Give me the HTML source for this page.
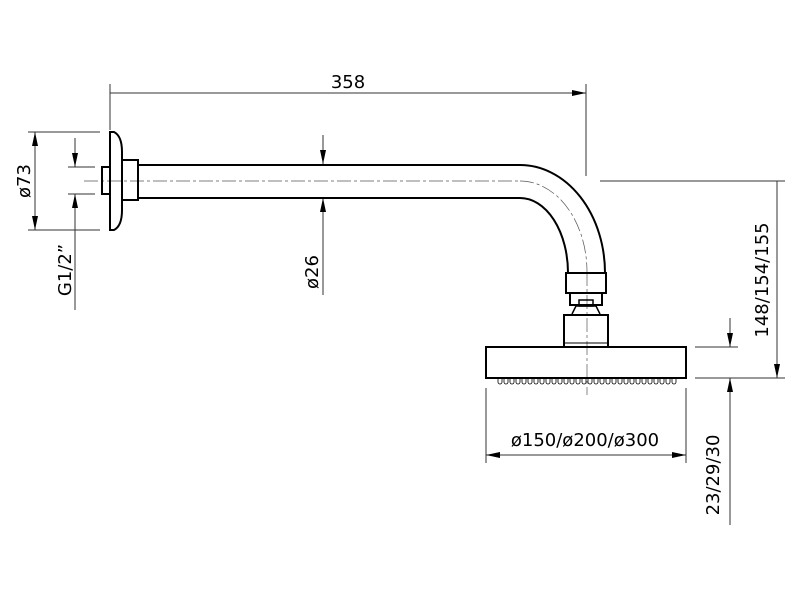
<!DOCTYPE html>
<html><head><style>body{margin:0;background:#fff}svg{display:block}</style></head><body>
<svg width="800" height="600" viewBox="0 0 800 600" xmlns="http://www.w3.org/2000/svg" font-family="DejaVu Sans, Liberation Sans, sans-serif">
<defs>
<marker id="a" viewBox="0 0 14 6" refX="14" refY="3" markerWidth="14" markerHeight="6" markerUnits="userSpaceOnUse" orient="auto-start-reverse"><path d="M0,0L14,3L0,6z" fill="#000"/></marker>
</defs>
<g stroke="#000" fill="none">
<g stroke-width="1" stroke="#333">
<line x1="110" y1="84" x2="110" y2="130"/>
<line x1="586" y1="84" x2="586" y2="176"/>
<line x1="110" y1="93" x2="586" y2="93" marker-end="url(#a)"/>
<line x1="28" y1="132" x2="100" y2="132"/>
<line x1="28" y1="230" x2="100" y2="230"/>
<line x1="35" y1="132" x2="35" y2="230" marker-start="url(#a)" marker-end="url(#a)"/>
<line x1="68" y1="167" x2="95" y2="167"/>
<line x1="68" y1="194" x2="95" y2="194"/>
<line x1="75" y1="138" x2="75" y2="167" marker-end="url(#a)"/>
<line x1="75" y1="310" x2="75" y2="194" marker-end="url(#a)"/>
<line x1="323" y1="135" x2="323" y2="164" marker-end="url(#a)"/>
<line x1="323" y1="295" x2="323" y2="198" marker-end="url(#a)"/>
<line x1="600" y1="181" x2="785" y2="181"/>
<line x1="695" y1="378" x2="785" y2="378"/>
<line x1="695" y1="347" x2="738" y2="347"/>
<line x1="777" y1="181" x2="777" y2="378" marker-end="url(#a)"/>
<line x1="730" y1="318" x2="730" y2="347" marker-end="url(#a)"/>
<line x1="730" y1="525" x2="730" y2="378" marker-end="url(#a)"/>
<line x1="486" y1="388" x2="486" y2="463"/>
<line x1="686" y1="388" x2="686" y2="463"/>
<line x1="486" y1="455" x2="686" y2="455" marker-start="url(#a)" marker-end="url(#a)"/>
<g stroke-dasharray="14 3 3 3" stroke-width="0.7" stroke="#555">
<line x1="84" y1="181" x2="520" y2="181"/>
<path d="M520,181 A67,91 0 0 1 587,272"/>
<line x1="587" y1="272" x2="587" y2="395"/>
</g>
</g>
<g stroke-width="2">
<path d="M110,132 L110,230 L114,230 Q122,226 122,210 L122,152 Q122,136 114,132 Z"/>
<rect x="102" y="167" width="8" height="27"/>
<rect x="122" y="160" width="16" height="40"/>
<path d="M138,165 L520,165 A85,108 0 0 1 605,273"/>
<path d="M138,198 L520,198 A48,75 0 0 1 568,273"/>
<rect x="566" y="273" width="40" height="20"/>
<rect x="570" y="293" width="32" height="12"/>
<rect x="579" y="300" width="14" height="6" stroke-width="1.5"/>
<path d="M572,314 L576,306 L596,306 L600,314" stroke-width="1.5"/>
<rect x="564" y="315" width="44" height="32"/>
<line x1="564" y1="343" x2="608" y2="343" stroke-width="1"/>
<rect x="486" y="347" width="200" height="31"/>
</g>
<path stroke-width="0.8" d="M498,378 v4 a2,2 0 0 0 4,0 v-4 M504,378 v4 a2,2 0 0 0 4,0 v-4 M510,378 v4 a2,2 0 0 0 4,0 v-4 M516,378 v4 a2,2 0 0 0 4,0 v-4 M522,378 v4 a2,2 0 0 0 4,0 v-4 M528,378 v4 a2,2 0 0 0 4,0 v-4 M534,378 v4 a2,2 0 0 0 4,0 v-4 M540,378 v4 a2,2 0 0 0 4,0 v-4 M546,378 v4 a2,2 0 0 0 4,0 v-4 M552,378 v4 a2,2 0 0 0 4,0 v-4 M558,378 v4 a2,2 0 0 0 4,0 v-4 M564,378 v4 a2,2 0 0 0 4,0 v-4 M570,378 v4 a2,2 0 0 0 4,0 v-4 M576,378 v4 a2,2 0 0 0 4,0 v-4 M582,378 v4 a2,2 0 0 0 4,0 v-4 M588,378 v4 a2,2 0 0 0 4,0 v-4 M594,378 v4 a2,2 0 0 0 4,0 v-4 M600,378 v4 a2,2 0 0 0 4,0 v-4 M606,378 v4 a2,2 0 0 0 4,0 v-4 M612,378 v4 a2,2 0 0 0 4,0 v-4 M618,378 v4 a2,2 0 0 0 4,0 v-4 M624,378 v4 a2,2 0 0 0 4,0 v-4 M630,378 v4 a2,2 0 0 0 4,0 v-4 M636,378 v4 a2,2 0 0 0 4,0 v-4 M642,378 v4 a2,2 0 0 0 4,0 v-4 M648,378 v4 a2,2 0 0 0 4,0 v-4 M654,378 v4 a2,2 0 0 0 4,0 v-4 M660,378 v4 a2,2 0 0 0 4,0 v-4 M666,378 v4 a2,2 0 0 0 4,0 v-4 M672,378 v4 a2,2 0 0 0 4,0 v-4"/>
</g>
<g fill="#000" font-size="18" text-anchor="middle">
<text x="348" y="88">358</text>
<text x="585" y="446">ø150/ø200/ø300</text>
<text transform="translate(30,181) rotate(-90)">ø73</text>
<text transform="translate(71,270) rotate(-90)">G1/2”</text>
<text transform="translate(318,272) rotate(-90)">ø26</text>
<text transform="translate(768,280) rotate(-90)">148/154/155</text>
<text transform="translate(719,475) rotate(-90)">23/29/30</text>
</g>
</svg>
</body></html>
